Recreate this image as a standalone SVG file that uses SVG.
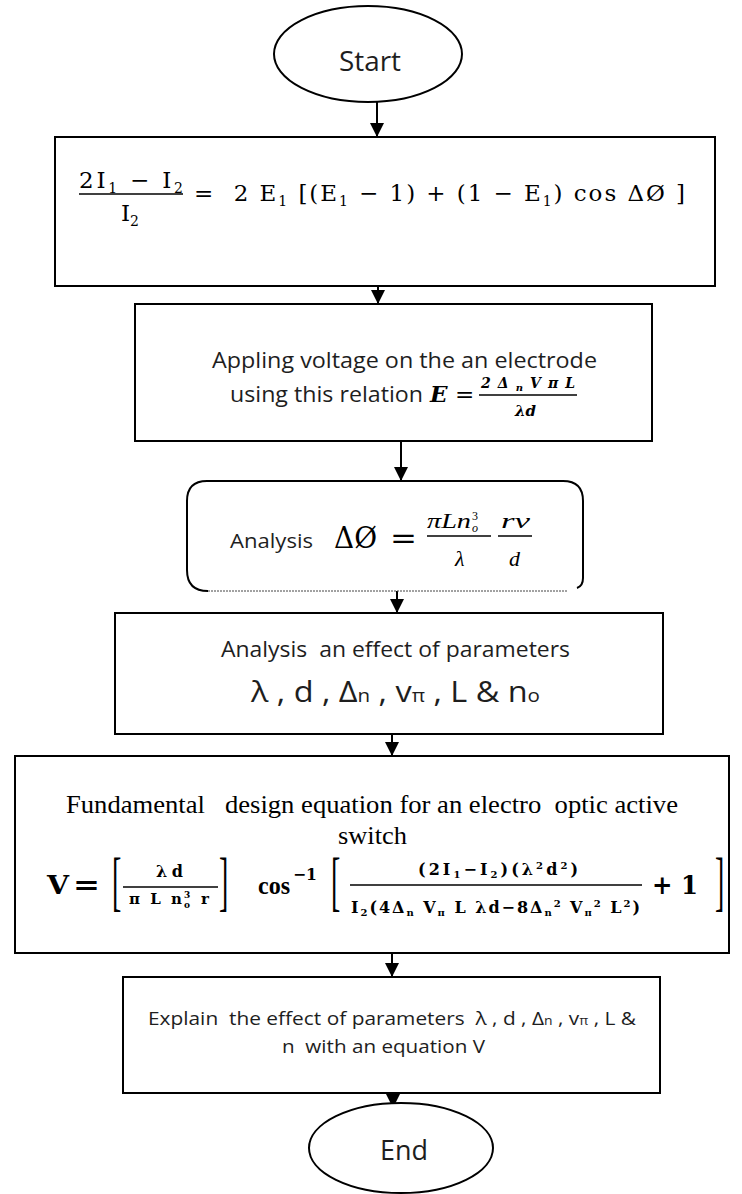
<svg xmlns="http://www.w3.org/2000/svg" width="742" height="1194" viewBox="0 0 742 1194">
<style>
.node{fill:#fff;stroke:#000;stroke-width:2}
text{white-space:pre}
.sans{font-family:"Open Sans","DejaVu Sans",sans-serif;fill:#1e1e1e}
.serif{font-family:"Liberation Serif","Times New Roman",serif;fill:#000}
.eq{font-family:"DejaVu Serif","Liberation Serif",serif;fill:#000}
.eqb{font-family:"DejaVu Serif","Liberation Serif",serif;fill:#000;font-weight:bold}
.it{font-style:italic}
.bar{stroke:#000;stroke-width:1.5}
.conn{stroke:#000;stroke-width:2;fill:none;marker-end:url(#ah)}
</style>
<defs>
<marker id="ah" viewBox="0 0 10 10" markerUnits="userSpaceOnUse" markerWidth="14" markerHeight="14" refX="10" refY="5" orient="auto">
<path d="M0,0 L10,5 L0,10 z" fill="#000"/>
</marker>
</defs>
<rect width="742" height="1194" fill="#fff"/>

<g id="connectors">
<line class="conn" x1="377" y1="101" x2="377" y2="137"/>
<line class="conn" x1="378" y1="286" x2="378" y2="304"/>
<line class="conn" x1="401" y1="441" x2="401" y2="481"/>
<line class="conn" x1="397" y1="591" x2="397" y2="613"/>
<line class="conn" x1="392" y1="734" x2="392" y2="756"/>
<line class="conn" x1="392" y1="953" x2="392" y2="977"/>
<line class="conn" x1="393" y1="1082" x2="393" y2="1108"/>
</g>

<g id="start">
<ellipse class="node" cx="368" cy="54" rx="94" ry="48"/>
<text class="sans" x="339" y="71" font-size="27" textLength="62" lengthAdjust="spacingAndGlyphs">Start</text>
</g>

<g id="box1">
<rect class="node" x="55" y="137" width="660" height="149" stroke-width="2.5"/>
<text class="eq" x="79" y="188" font-size="23" textLength="104">2I<tspan font-size="14" dy="5">1</tspan><tspan dy="-5"> − I</tspan><tspan font-size="14" dy="5">2</tspan></text>
<line class="bar" x1="79" y1="194" x2="183" y2="194"/>
<text class="eq" x="121" y="221" font-size="23">I<tspan font-size="14" dy="5">2</tspan></text>
<text class="eq" x="194" y="201" font-size="23" textLength="491">=  2 E<tspan font-size="14" dy="5">1</tspan><tspan dy="-5"> [(E</tspan><tspan font-size="14" dy="5">1</tspan><tspan dy="-5"> − 1) + (1 − E</tspan><tspan font-size="14" dy="5">1</tspan><tspan dy="-5">) cos ΔØ ]</tspan></text>
</g>

<g id="box2">
<rect class="node" x="135" y="304" width="517" height="137"/>
<text class="sans" x="212" y="368" font-size="21" textLength="385" lengthAdjust="spacingAndGlyphs">Appling voltage on the an electrode</text>
<text class="sans" x="230" y="402" font-size="21" textLength="193" lengthAdjust="spacingAndGlyphs">using this relation</text>
<text class="eqb it" x="430" y="402" font-size="23">E</text>
<text class="eq" x="455" y="402" font-size="23">=</text>
<text class="eqb it" x="481" y="388" font-size="14" textLength="94">2Δ<tspan font-size="10" dy="3">n</tspan><tspan dy="-3">VπL</tspan></text>
<line class="bar" x1="479" y1="395" x2="577" y2="395" stroke-width="1.2"/>
<text class="eqb it" x="515" y="416" font-size="15">λd</text>
</g>

<g id="box3">
<path d="M208 591 Q187 591 187 570 L187 501 Q187 481 207 481 L563 481 Q583 481 583 501 L583 578 Q583 586 577 588" fill="#fff" stroke="#000" stroke-width="2"/>
<line x1="208" y1="591" x2="568" y2="591" stroke="#444" stroke-width="1" stroke-dasharray="2 1"/>
<text class="sans" x="230" y="548" font-size="20" textLength="83" lengthAdjust="spacingAndGlyphs">Analysis</text>
<text class="eq" x="334" y="548" font-size="30" textLength="43" lengthAdjust="spacingAndGlyphs">ΔØ</text>
<text class="eq" x="390" y="548" font-size="30" textLength="27" lengthAdjust="spacingAndGlyphs">=</text>
<text class="serif it" x="427" y="528" font-size="22" textLength="44" lengthAdjust="spacingAndGlyphs">πLn</text>
<text class="serif" x="472" y="520" font-size="12">3</text>
<text class="serif it" x="472" y="532" font-size="12">o</text>
<line class="bar" x1="427" y1="536" x2="491" y2="536"/>
<text class="serif it" x="455" y="566" font-size="22">λ</text>
<text class="serif it" x="501" y="528" font-size="22" textLength="29" lengthAdjust="spacingAndGlyphs">rv</text>
<line class="bar" x1="498" y1="536" x2="532" y2="536"/>
<text class="serif it" x="509" y="566" font-size="22">d</text>
</g>

<g id="box4">
<rect class="node" x="115" y="613" width="548" height="121"/>
<text class="sans" x="221" y="657" font-size="21" textLength="349" lengthAdjust="spacingAndGlyphs">Analysis  an effect of parameters</text>
<text class="sans" x="251" y="702" font-size="30" textLength="289" lengthAdjust="spacingAndGlyphs">λ , d , Δ<tspan font-size="19">n</tspan> , v<tspan font-size="19">π</tspan> , L &amp; n<tspan font-size="19">o</tspan></text>
</g>

<g id="box5">
<rect class="node" x="15" y="756" width="714" height="197"/>
<text class="serif" x="66" y="813" font-size="25" textLength="612" lengthAdjust="spacingAndGlyphs">Fundamental   design equation for an electro  optic active</text>
<text class="serif" x="338" y="844" font-size="25" textLength="69" lengthAdjust="spacingAndGlyphs">switch</text>
<text class="eqb" x="47" y="894" font-size="26" textLength="22" lengthAdjust="spacingAndGlyphs">V</text>
<text class="eqb" x="73" y="894" font-size="26" textLength="27" lengthAdjust="spacingAndGlyphs">=</text>
<text class="serif" transform="translate(112,903) scale(1,2.35)" font-size="28">[</text>
<text class="eqb" x="156" y="877" font-size="16" textLength="27">λd</text>
<line class="bar" x1="123" y1="887" x2="218" y2="887"/>
<text class="eqb" x="129" y="904" font-size="15" textLength="53">π L n</text>
<text class="eqb" x="184" y="898" font-size="9">3</text>
<text class="eqb" x="184" y="908" font-size="9">o</text>
<text class="eqb" x="201" y="904" font-size="15">r</text>
<text class="serif" transform="translate(219,903) scale(1,2.35)" font-size="28">]</text>
<text class="serif" x="258" y="894" font-size="25" font-weight="bold" textLength="32" lengthAdjust="spacingAndGlyphs">cos</text>
<text class="eqb" x="293" y="880" font-size="16" textLength="24" lengthAdjust="spacingAndGlyphs">−1</text>
<text class="serif" transform="translate(331,903) scale(1,2.35)" font-size="28">[</text>
<text class="eqb" x="418" y="875" font-size="16" textLength="160">(2I<tspan font-size="10" dy="3">1</tspan><tspan dy="-3">−I</tspan><tspan font-size="10" dy="3">2</tspan><tspan dy="-3">)(λ</tspan><tspan font-size="10" dy="-6">2</tspan><tspan dy="6">d</tspan><tspan font-size="10" dy="-6">2</tspan><tspan dy="6">)</tspan></text>
<line class="bar" x1="350" y1="885" x2="642" y2="885"/>
<text class="eqb" x="351" y="913" font-size="16" textLength="289">I<tspan font-size="10" dy="3">2</tspan><tspan dy="-3">(4Δ</tspan><tspan font-size="10" dy="3">n</tspan><tspan dy="-3"> V</tspan><tspan font-size="10" dy="3">π</tspan><tspan dy="-3"> L λd−8Δ</tspan><tspan font-size="10" dy="3">n</tspan><tspan font-size="10" dy="-9">2</tspan><tspan dy="6"> V</tspan><tspan font-size="10" dy="3">π</tspan><tspan font-size="10" dy="-9">2</tspan><tspan dy="6"> L</tspan><tspan font-size="10" dy="-6">2</tspan><tspan dy="6">)</tspan></text>
<text class="eqb" x="652" y="894" font-size="26" textLength="46" lengthAdjust="spacingAndGlyphs">+ 1</text>
<text class="serif" transform="translate(715,903) scale(1,2.35)" font-size="28">]</text>
</g>

<g id="box6">
<rect class="node" x="123" y="977" width="537" height="116" stroke-width="1.6"/>
<text class="sans" x="148" y="1025" font-size="18" textLength="488" lengthAdjust="spacingAndGlyphs">Explain  the effect of parameters  λ , d , Δ<tspan font-size="12">n</tspan> , v<tspan font-size="12">π</tspan> , L &amp;</text>
<text class="sans" x="282" y="1053" font-size="18" textLength="203" lengthAdjust="spacingAndGlyphs">n  with an equation V</text>
</g>

<g id="end">
<ellipse class="node" cx="401" cy="1148" rx="92" ry="45"/>
<text class="sans" x="380" y="1160" font-size="27" textLength="48" lengthAdjust="spacingAndGlyphs">End</text>
</g>
</svg>
